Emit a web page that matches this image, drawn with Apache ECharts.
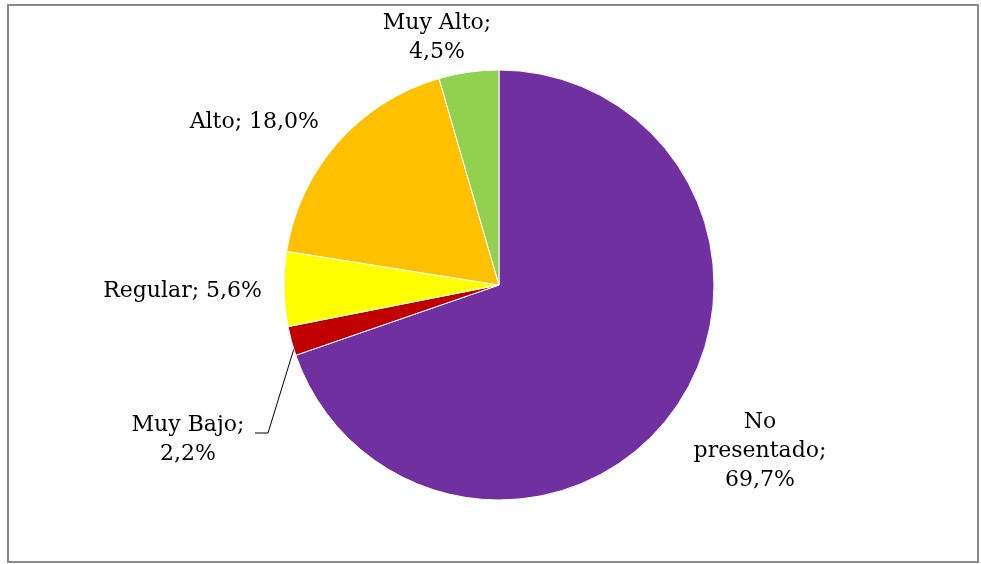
<!DOCTYPE html>
<html>
<head>
<meta charset="utf-8">
<script src="https://cdn.jsdelivr.net/npm/echarts@6/dist/echarts.min.js"></script>
<style>
html,body{margin:0;padding:0;background:#fff;}
#chart{width:981px;height:564px;}
</style>
</head>
<body>
<div id="chart"></div>
<script>
var categories = ['No presentado', 'Muy Bajo', 'Regular', 'Alto', 'Muy Alto'];
var values = [69.7, 2.2, 5.6, 18.0, 4.5];
var labelTexts = ['No\npresentado;\n69,7%', 'Muy Bajo;\n2,2%', 'Regular; 5,6%', 'Alto; 18,0%', 'Muy Alto;\n4,5%'];
var colors = ['#7030A0', '#C00000', '#FFFF00', '#FFC000', '#92D050'];

var labelPos = [
  {x: 760, y: 451, align: 'center'},
  {x: 188, y: 440, align: 'center'},
  {x: 262, y: 291, align: 'right'},
  {x: 319, y: 122, align: 'right'},
  {x: 437, y: 38, align: 'center'}
];

var chart = echarts.init(document.getElementById('chart'), null, {renderer: 'canvas'});
chart.setOption({
  animation: false,
  backgroundColor: '#fff',
  graphic: [{
    type: 'rect',
    shape: {x: 8, y: 5, width: 970, height: 557},
    style: {fill: 'none', stroke: '#8a8a8a', lineWidth: 2},
    silent: true
  }],
  series: [{
    type: 'pie',
    center: [499, 285],
    radius: [0, 215],
    startAngle: 90,
    clockwise: true,
    avoidLabelOverlap: false,
    itemStyle: {borderColor: '#fff', borderWidth: 1},
    label: {
      show: true,
      position: 'outside',
      color: '#000',
      fontFamily: 'DejaVu Serif',
      fontSize: 22,
      lineHeight: 29,
      formatter: function (p) { return labelTexts[p.dataIndex]; }
    },
    labelLine: {show: false},
    labelLayout: function (p) {
      var lp = labelPos[p.dataIndex];
      var res = {x: lp.x, y: lp.y, align: lp.align, verticalAlign: 'middle'};
      if (p.dataIndex === 1) {
        res.labelLinePoints = [[296, 342], [268, 433], [255, 433]];
      }
      return res;
    },
    data: categories.map(function (c, i) {
      var d = {name: c, value: values[i], itemStyle: {color: colors[i]}};
      if (i === 1) {
        d.labelLine = {show: true, lineStyle: {color: '#000', width: 1}, length: 10, length2: 10};
      }
      return d;
    })
  }]
});
</script>
</body>
</html>
